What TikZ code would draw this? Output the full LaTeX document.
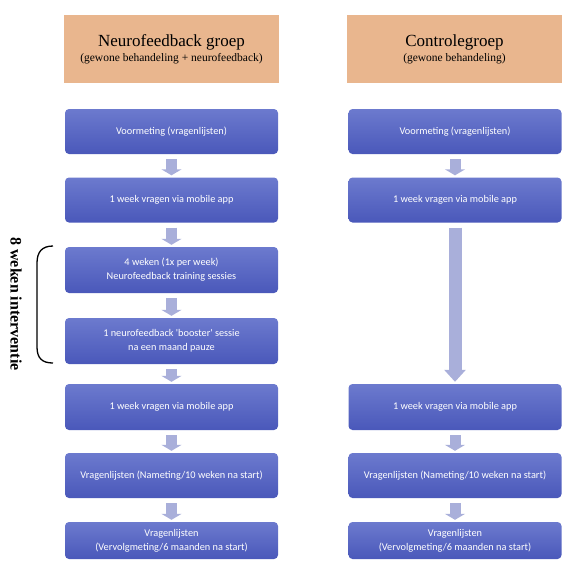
\documentclass[tikz,border=0pt]{standalone}
\usepackage{fontspec}
\setmainfont{Liberation Serif}
\newfontfamily\calibri{Carlito}
\usetikzlibrary{arrows.meta}

\definecolor{kopkleur}{HTML}{E9B68E}
\definecolor{bloktop}{HTML}{6C7ACE}
\definecolor{blokbodem}{HTML}{4A58BA}
\definecolor{pijlkleur}{HTML}{A9AFDA}

\tikzset{
	kop/.style={fill=kopkleur, minimum width=215pt, minimum height=68pt, align=center, inner sep=0pt, font=\fontsize{17}{16}\selectfont},
	blok/.style={rounded corners=4pt, top color=bloktop, bottom color=blokbodem, minimum width=213pt, minimum height=45pt, align=center, text=white, inner sep=0pt, font=\calibri\fontsize{10.3}{14}\selectfont},
	pijl/.style={draw=pijlkleur, line width=11pt, -{Triangle[width=20pt,length=6pt]}, shorten <=5pt, shorten >=2pt},
	pijllang/.style={draw=pijlkleur, line width=13pt, -{Triangle[width=21pt,length=12pt]}, shorten <=5pt, shorten >=2pt}
}

\begin{document}
\begin{tikzpicture}[x=1pt,y=-1pt]
			\useasboundingbox (0,0) rectangle (585,574);

			% Koppen
			\node[kop] (kopNF) at (171.5,49) {Neurofeedback groep\\[-1pt]{\fontsize{11.5}{14}\selectfont(gewone behandeling + neurofeedback)}};
			\node[kop] (kopC) at (454.5,49) {Controlegroep\\[-1pt]{\fontsize{11.5}{14}\selectfont(gewone behandeling)}};

			% Neurofeedback groep
			\node[blok] (nf1) at (171.5,131.5) {Voormeting (vragenlijsten)};
			\node[blok] (nf2) at (171.5,200) {1 week vragen via mobile app};
			\node[blok, minimum height=46pt] (nf3) at (171.5,270) {4 weken (1x per week)\\Neurofeedback training sessies};
			\node[blok, minimum height=46pt] (nf4) at (171.5,341) {1 neurofeedback 'booster' sessie\\na een maand pauze};
			\node[blok, minimum height=46pt] (nf5) at (171.5,407) {1 week vragen via mobile app};
			\node[blok] (nf6) at (171.5,475.5) {Vragenlijsten (Nameting/10 weken na start)};
			\node[blok, minimum height=37pt] (nf7) at (171.5,540.5) {Vragenlijsten\\(Vervolgmeting/6 maanden na start)};

			% Controlegroep
			\node[blok] (c1) at (455,131.5) {Voormeting (vragenlijsten)};
			\node[blok] (c2) at (455,200) {1 week vragen via mobile app};
			\node[blok, minimum height=46pt] (c5) at (455,407) {1 week vragen via mobile app};
			\node[blok] (c6) at (455,475.5) {Vragenlijsten (Nameting/10 weken na start)};
			\node[blok, minimum height=37pt] (c7) at (455,540.5) {Vragenlijsten\\(Vervolgmeting/6 maanden na start)};

			% Pijlen
			\draw[pijl] (nf1) -- (nf2);
			\draw[pijl] (nf2) -- (nf3);
			\draw[pijl] (nf3) -- (nf4);
			\draw[pijl] (nf4) -- (nf5);
			\draw[pijl] (nf5) -- (nf6);
			\draw[pijl] (nf6) -- (nf7);
			\draw[pijl] (c1) -- (c2);
			\draw[pijllang] (c2) -- (c5);
			\draw[pijl] (c5) -- (c6);
			\draw[pijl] (c6) -- (c7);

			% accolade interventie
			\draw[line width=1.3pt] (53,246) .. controls (42,246) and (37,252) .. (37,263) -- (37,347) .. controls (37,358) and (42,363) .. (53,363);
			\node[rotate=-90, font=\bfseries\fontsize{16}{16}\selectfont] (interventie) at (16,304) {8 weken interventie};

		    \end{tikzpicture}
\end{document}
